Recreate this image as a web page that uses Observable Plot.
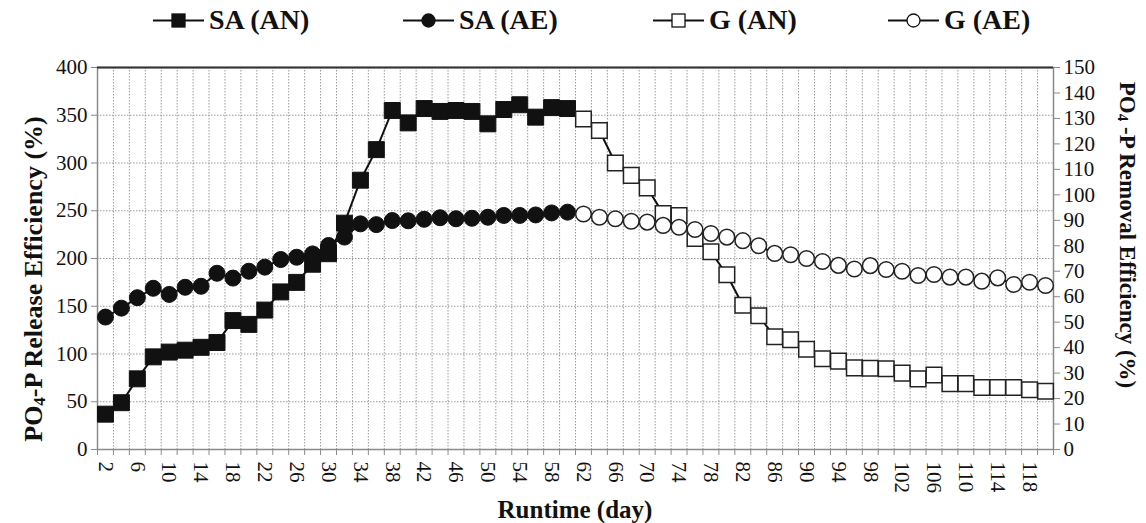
<!DOCTYPE html>
<html><head><meta charset="utf-8">
<script src="https://cdn.jsdelivr.net/npm/d3@7"></script>
<script src="https://cdn.jsdelivr.net/npm/@observablehq/plot@0.6"></script>
<style>
body{margin:0;background:#fff;font-family:'Liberation Serif',serif;}
#wrap{position:relative;width:1146px;height:523px;overflow:hidden;}
#legend{position:relative;height:40px;width:1146px;}
.item{position:absolute;top:4px;height:32px;display:flex;align-items:center;font-family:'Liberation Serif',serif;font-weight:bold;font-size:28px;color:#111;white-space:nowrap;}
.item svg{margin-right:5px;}
svg text{font-family:'Liberation Serif',serif !important;}
</style></head><body>
<div id="wrap"><div id="legend"></div><div id="chart"></div></div>
<script>
// ---- data ----
const saDays = [2,4,6,8,10,12,14,16,18,20,22,24,26,28,30,32,34,36,38,40,42,44,46,48,50,52,54,56,58,60];
const gDays = [62,64,66,68,70,72,74,76,78,80,82,84,86,88,90,92,94,96,98,100,102,104,106,108,110,112,114,116,118,120];
// PO4-P release efficiency (%), left axis
const SA_AN = [37,49,74,97,102,104,107,112,135,131,146,165,175,194,205,237,282,314,355,342,357,354,355,354,341,356,361,348,358,357];
const G_AN = [346,334,300,287,274,247,245,221,207,183,151,140,118,115,105,95,92.5,85.5,85,84.5,80,74,78,69,69,65,65,65,62.5,61];
// PO4-P removal efficiency (%), right axis
const SA_AE = [52,55.5,59.6,63.3,60.9,63.7,64.1,69.2,67.3,70,71.6,74.6,75.5,76.8,80.1,83.4,88.6,88.3,89.9,89.8,90.4,91,90.6,90.8,91.2,91.9,91.9,92.1,92.9,93.2];
const G_AE = [92.5,91.2,90.6,89.6,89.3,88,87.3,86.4,84.8,83.4,82,80,77,76.5,75,73.8,72.3,70.9,72.2,70.7,70,68.3,68.7,67.7,67.7,66.1,67.4,64.8,65.7,64.4];
// ticks
const xLabelDays = [2,6,10,14,18,22,26,30,34,38,42,46,50,54,58,62,66,70,74,78,82,86,90,94,98,102,106,110,114,118];
const xTickBounds = [1,3,5,7,9,11,13,15,17,19,21,23,25,27,29,31,33,35,37,39,41,43,45,47,49,51,53,55,57,59,61,63,65,67,69,71,73,75,77,79,81,83,85,87,89,91,93,95,97,99,101,103,105,107,109,111,113,115,117,119,121];
const leftTicks = [0,50,100,150,200,250,300,350,400];
const rightTicks = [0,10,20,30,40,50,60,70,80,90,100,110,120,130,140,150];
const legendItems = [
  {label:"SA (AN)", symbol:"square", fill:"#111", left:153},
  {label:"SA (AE)", symbol:"circle", fill:"#111", left:403},
  {label:"G (AN)", symbol:"square", fill:"#fff", left:653},
  {label:"G (AE)", symbol:"circle", fill:"#fff", left:888}
];

const K = 400/150; // right-axis -> left-axis units
const mk = (days, vals, k=1) => days.map((d,i)=>({day:d, v:vals[i]*k}));
const saAN = mk(saDays, SA_AN), gAN = mk(gDays, G_AN);
const saAE = mk(saDays, SA_AE, K), gAE = mk(gDays, G_AE, K);

// legend
const leg = document.getElementById("legend");
for (const it of legendItems) {
  const div = document.createElement("div");
  div.className = "item"; div.style.left = it.left + "px";
  const shape = it.symbol === "square"
    ? `<rect x="19" y="8" width="13" height="13" fill="${it.fill}" stroke="#111" stroke-width="1.3"/>`
    : `<circle cx="25.5" cy="14.5" r="6.5" fill="${it.fill}" stroke="#111" stroke-width="1.3"/>`;
  div.innerHTML = `<svg width="51" height="29"><line x1="0" x2="51" y1="14.5" y2="14.5" stroke="#111" stroke-width="2"/>${shape}</svg><span>${it.label}</span>`;
  leg.appendChild(div);
}

const FONT = "'Liberation Serif', serif";
const gridStyle = {stroke:"#9a9a9a", strokeOpacity:1, strokeDasharray:"1.5,1.5", strokeWidth:1};
const chart = Plot.plot({
  width:1146, height:483,
  marginLeft:97, marginRight:93, marginTop:27, marginBottom:74,
  style:{fontFamily:FONT, fontSize:"21px", background:"#fff", color:"#111"},
  x:{type:"linear", domain:[1,121]},
  y:{domain:[0,400]},
  marks:[
    Plot.gridX(xTickBounds.slice(1,-1), gridStyle),
    Plot.gridY(leftTicks.slice(1,-1), gridStyle),
    Plot.frame({stroke:"#8a8a8a", strokeWidth:1.5}),
    Plot.ruleY([400], {stroke:"#333", strokeWidth:2}),
    Plot.axisY(leftTicks, {anchor:"left", tickSize:6, tickPadding:4, stroke:"#8a8a8a", fill:"#111", fontSize:21, label:null}),
    Plot.axisY(rightTicks.map(v=>v*K), {anchor:"right", tickSize:6, tickPadding:4, stroke:"#8a8a8a", fill:"#111", fontSize:21, label:null, tickFormat:d=>String(Math.round(d/K))}),
    Plot.axisX(xTickBounds, {anchor:"bottom", tickSize:6, stroke:"#8a8a8a", tickFormat:()=>"", label:null}),
    Plot.axisX(xLabelDays, {anchor:"bottom", tickSize:0, tickPadding:12, tickRotate:90, fill:"#111", fontSize:21, label:null}),
    Plot.line(saAN, {x:"day", y:"v", stroke:"#111", strokeWidth:2}),
    Plot.line(gAN, {x:"day", y:"v", stroke:"#111", strokeWidth:2}),
    Plot.line(saAE, {x:"day", y:"v", stroke:"#111", strokeWidth:2}),
    Plot.line(gAE, {x:"day", y:"v", stroke:"#111", strokeWidth:2}),
    Plot.dot(saAN, {x:"day", y:"v", symbol:"square", r:9, fill:"#111", stroke:"#111", strokeWidth:1}),
    Plot.dot(saAE, {x:"day", y:"v", symbol:"circle", r:8, fill:"#111", stroke:"#111", strokeWidth:1}),
    Plot.dot(gAN, {x:"day", y:"v", symbol:"square", r:8.8, fill:"#fff", stroke:"#222", strokeWidth:1.5}),
    Plot.dot(gAE, {x:"day", y:"v", symbol:"circle", r:7.8, fill:"#fff", stroke:"#222", strokeWidth:1.5})
  ]
});
document.getElementById("chart").appendChild(chart);

// axis titles with subscript
const svg = d3.select(chart);
const tl = svg.append("text").attr("transform","translate(33,239) rotate(-90)")
  .attr("text-anchor","middle").attr("dominant-baseline","central")
  .attr("font-family",FONT).attr("font-weight","bold").attr("font-size",26).attr("fill","#111");
tl.append("tspan").text("PO");
tl.append("tspan").attr("font-size",17).attr("dy",6).text("4");
tl.append("tspan").attr("dy",-6).text("-P Release Efficiency (%)");
const tr = svg.append("text").attr("transform","translate(1128,195) rotate(90)")
  .attr("text-anchor","middle").attr("dominant-baseline","central")
  .attr("font-family",FONT).attr("font-weight","bold").attr("font-size",23).attr("fill","#111");
tr.append("tspan").text("PO");
tr.append("tspan").attr("font-size",15).attr("dy",5).text("4");
tr.append("tspan").attr("dy",-5).text(" -P Removal Efficiency (%)");
svg.append("text").attr("x",575).attr("y",478).attr("text-anchor","middle")
  .attr("font-family",FONT).attr("font-weight","bold").attr("font-size",25).attr("fill","#111").text("Runtime (day)");
</script>
</body></html>
